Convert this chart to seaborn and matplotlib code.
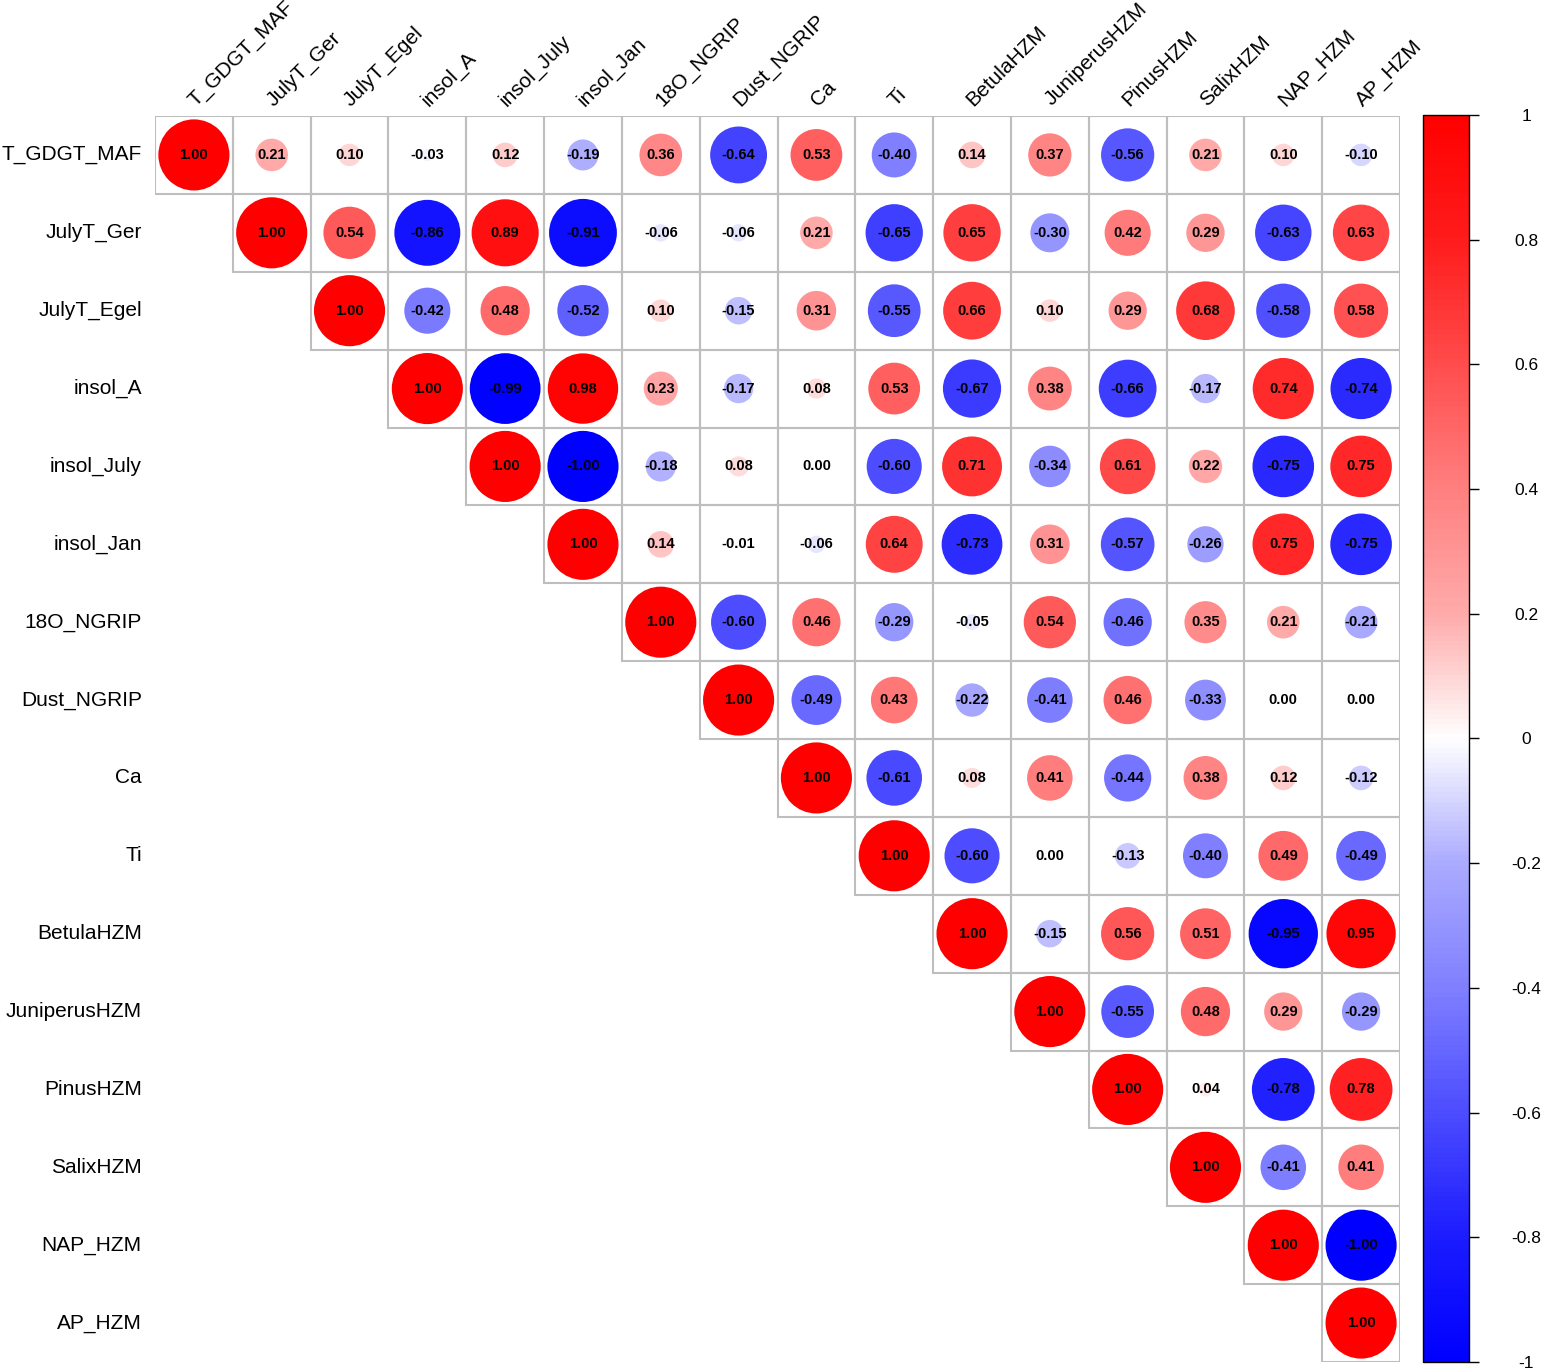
import numpy as np
import pandas as pd
import matplotlib
matplotlib.use("Agg")
import matplotlib.pyplot as plt
from matplotlib.patches import Rectangle
from matplotlib.colors import LinearSegmentedColormap
import seaborn as sns

variables = ["T_GDGT_MAF", "JulyT_Ger", "JulyT_Egel", "insol_A", "insol_July", "insol_Jan",
             "18O_NGRIP", "Dust_NGRIP", "Ca", "Ti", "BetulaHZM", "JuniperusHZM", "PinusHZM",
             "SalixHZM", "NAP_HZM", "AP_HZM"]

# upper-triangle rows (from the diagonal to the right)
row_T_GDGT_MAF = [1.00, 0.21, 0.10, -0.03, 0.12, -0.19, 0.36, -0.64, 0.53, -0.40, 0.14, 0.37, -0.56, 0.21, 0.10, -0.10]
row_JulyT_Ger = [1.00, 0.54, -0.86, 0.89, -0.91, -0.06, -0.06, 0.21, -0.65, 0.65, -0.30, 0.42, 0.29, -0.63, 0.63]
row_JulyT_Egel = [1.00, -0.42, 0.48, -0.52, 0.10, -0.15, 0.31, -0.55, 0.66, 0.10, 0.29, 0.68, -0.58, 0.58]
row_insol_A = [1.00, -0.99, 0.98, 0.23, -0.17, 0.08, 0.53, -0.67, 0.38, -0.66, -0.17, 0.74, -0.74]
row_insol_July = [1.00, -1.00, -0.18, 0.08, 0.00, -0.60, 0.71, -0.34, 0.61, 0.22, -0.75, 0.75]
row_insol_Jan = [1.00, 0.14, -0.01, -0.06, 0.64, -0.73, 0.31, -0.57, -0.26, 0.75, -0.75]
row_18O_NGRIP = [1.00, -0.60, 0.46, -0.29, -0.05, 0.54, -0.46, 0.35, 0.21, -0.21]
row_Dust_NGRIP = [1.00, -0.49, 0.43, -0.22, -0.41, 0.46, -0.33, 0.00, 0.00]
row_Ca = [1.00, -0.61, 0.08, 0.41, -0.44, 0.38, 0.12, -0.12]
row_Ti = [1.00, -0.60, 0.00, -0.13, -0.40, 0.49, -0.49]
row_BetulaHZM = [1.00, -0.15, 0.56, 0.51, -0.95, 0.95]
row_JuniperusHZM = [1.00, -0.55, 0.48, 0.29, -0.29]
row_PinusHZM = [1.00, 0.04, -0.78, 0.78]
row_SalixHZM = [1.00, -0.41, 0.41]
row_NAP_HZM = [1.00, -1.00]
row_AP_HZM = [1.00]

rows = [row_T_GDGT_MAF, row_JulyT_Ger, row_JulyT_Egel, row_insol_A, row_insol_July, row_insol_Jan,
        row_18O_NGRIP, row_Dust_NGRIP, row_Ca, row_Ti, row_BetulaHZM, row_JuniperusHZM,
        row_PinusHZM, row_SalixHZM, row_NAP_HZM, row_AP_HZM]

colorbar_ticks = [-1, -0.8, -0.6, -0.4, -0.2, 0, 0.2, 0.4, 0.6, 0.8, 1]
colorbar_labels = ["-1", "-0.8", "-0.6", "-0.4", "-0.2", "0", "0.2", "0.4", "0.6", "0.8", "1"]

records = []
for i, vals in enumerate(rows):
    for k, v in enumerate(vals):
        j = i + k
        records.append({"row": i, "col": j, "r": v, "absr": abs(v)})
df = pd.DataFrame(records)

sns.set_style("white")
plt.rcParams["font.family"] = ["Liberation Sans", "DejaVu Sans"]
plt.rcParams["text.color"] = "black"
plt.rcParams["xtick.color"] = "black"
plt.rcParams["ytick.color"] = "black"
plt.rcParams["axes.labelcolor"] = "black"

# blue - white - red ramp (saturating faster than linear, as in the reference)
white_frac = [(0.0, 1.0), (0.2, 0.67), (0.4, 0.5), (0.6, 0.3), (0.8, 0.11), (1.0, 0.0)]
stops = []
for a, w in reversed(white_frac):
    stops.append(((1 - a) / 2, (w, w, 1.0)))
for a, w in white_frac[1:]:
    stops.append(((1 + a) / 2, (1.0, w, w)))
cmap = LinearSegmentedColormap.from_list("bwr_ref", stops, N=256)

W, H = 1542, 1369
fig = plt.figure(figsize=(W / 100, H / 100), dpi=100)
gl, gr, gt, gb = 155, 1400, 116, 1362
ax = fig.add_axes([gl / W, 1 - gb / H, (gr - gl) / W, (gb - gt) / H])

n = len(variables)
cell_px = (gr - gl) / n
cell_pt = cell_px * 72 / 100
dmax = 0.914 * cell_pt

# grid cells
for _, rec in df.iterrows():
    ax.add_patch(Rectangle((rec["col"] - 0.5, rec["row"] - 0.5), 1, 1, fill=False,
                           edgecolor="#BEBEBE", lw=1.5, zorder=1))

sns.scatterplot(data=df, x="col", y="row", hue="r", palette=cmap, hue_norm=(-1, 1),
                size="absr", sizes=(0, dmax ** 2), size_norm=(0, 1),
                linewidth=0, legend=False, ax=ax, zorder=2)

for _, rec in df.iterrows():
    ax.text(rec["col"], rec["row"], f"{rec['r']:.2f}", ha="center", va="center",
            fontsize=10.5, fontweight="bold", color="black", zorder=3)

ax.set_xlim(-0.5, n - 0.5)
ax.set_ylim(n - 0.5, -0.5)
for s in ax.spines.values():
    s.set_visible(False)
ax.set_xticks([])
ax.set_xlabel("")
ax.set_ylabel("")
ax.set_yticks(range(n))
ax.set_yticklabels(variables, fontsize=15, color="black", va="center")
ax.tick_params(axis="y", length=0, pad=9.5)

for j, name in enumerate(variables):
    ax.text(j + 0.02, -0.62, name, rotation=45, rotation_mode="anchor",
            ha="left", va="baseline", fontsize=15, color="black", clip_on=False)

# colorbar
cax = fig.add_axes([1423 / W, 1 - gb / H, 46 / W, (gb - 115) / H])
sm = matplotlib.cm.ScalarMappable(cmap=cmap, norm=matplotlib.colors.Normalize(-1, 1))
cb = fig.colorbar(sm, cax=cax)
cb.set_ticks(colorbar_ticks)
cb.set_ticklabels(colorbar_labels)
cb.outline.set_edgecolor("black")
cb.outline.set_linewidth(1)
cax.tick_params(axis="y", length=7.2, width=1, direction="out", labelsize=12.5, pad=34,
                colors="black")
for lbl in cax.get_yticklabels():
    lbl.set_horizontalalignment("center")

fig.savefig("out.png", dpi=100, facecolor="white")
